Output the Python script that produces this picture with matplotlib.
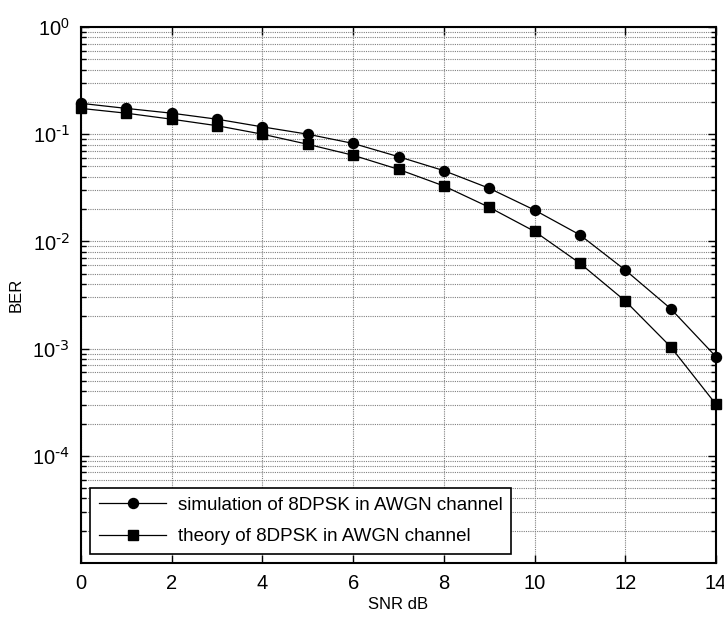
import matplotlib
matplotlib.use('Agg')
import matplotlib.pyplot as plt
from matplotlib.ticker import LogLocator, FixedLocator, NullFormatter
import numpy as np

plt.rcParams['font.family'] = ['Liberation Sans', 'DejaVu Sans']
plt.rcParams['mathtext.default'] = 'regular'

# data
snr = list(range(15))
ber_sim = [0.194, 0.174, 0.157, 0.138, 0.117, 0.100, 0.082, 0.0617, 0.0457,
           0.0313, 0.0196, 0.0115, 0.0054, 0.00236, 0.00084]
ber_theory = [0.174, 0.157, 0.138, 0.120, 0.100, 0.0805, 0.0636, 0.047, 0.0329,
              0.0208, 0.0124, 0.00625, 0.00278, 0.00104, 0.000302]
x_ticks = [0, 2, 4, 6, 8, 10, 12, 14]
y_ticks = [1e-4, 1e-3, 1e-2, 1e-1, 1e0]
y_labels = [r'$10^{\text{-4}}$', r'$10^{\text{-3}}$', r'$10^{\text{-2}}$',
            r'$10^{\text{-1}}$', r'$10^{0}$']
labels = ['simulation of 8DPSK in AWGN channel', 'theory of 8DPSK in AWGN channel']

fig = plt.figure(figsize=(7.24, 6.17), dpi=100)
ax = fig.add_axes([81 / 724, 1 - 563 / 617, (716 - 81) / 724, (563 - 27) / 617])

ax.semilogy(snr, ber_sim, 'k-o', lw=0.9, markersize=7.2, label=labels[0], clip_on=False, zorder=5)
ax.semilogy(snr, ber_theory, 'k-s', lw=0.9, markersize=7, label=labels[1], clip_on=False, zorder=5)

ax.set_xlim(0, 14)
ax.set_ylim(1e-5, 1e0)
ax.set_xticks(x_ticks)
ax.yaxis.set_major_locator(FixedLocator(y_ticks))
ax.set_yticklabels(y_labels)
ax.yaxis.set_minor_locator(LogLocator(base=10, subs=np.arange(2, 10), numticks=20))
ax.yaxis.set_minor_formatter(NullFormatter())

ax.grid(True, which='major', axis='both', linestyle=(0, (1, 1)), color='0.5', lw=0.8)
ax.grid(True, which='minor', axis='y', linestyle=(0, (1, 1)), color='0.5', lw=0.8)

ax.tick_params(which='both', direction='in', top=True, right=True, labelsize=14.5, pad=8)
ax.tick_params(which='major', length=6, width=1.0)
ax.tick_params(which='minor', length=3.5, width=1.0)
for s in ax.spines.values():
    s.set_linewidth(1.5)

ax.set_xlabel('SNR dB', fontsize=12, labelpad=3)
ax.set_ylabel('BER', fontsize=12, labelpad=6)

leg = ax.legend(loc='lower left', fontsize=13.5, frameon=True, fancybox=False,
                edgecolor='k', framealpha=1, borderaxespad=0.5, handlelength=3.6,
                borderpad=0.45, labelspacing=0.75, handletextpad=0.6)
leg.get_frame().set_linewidth(1.2)

fig.savefig('out.png', dpi=100)
